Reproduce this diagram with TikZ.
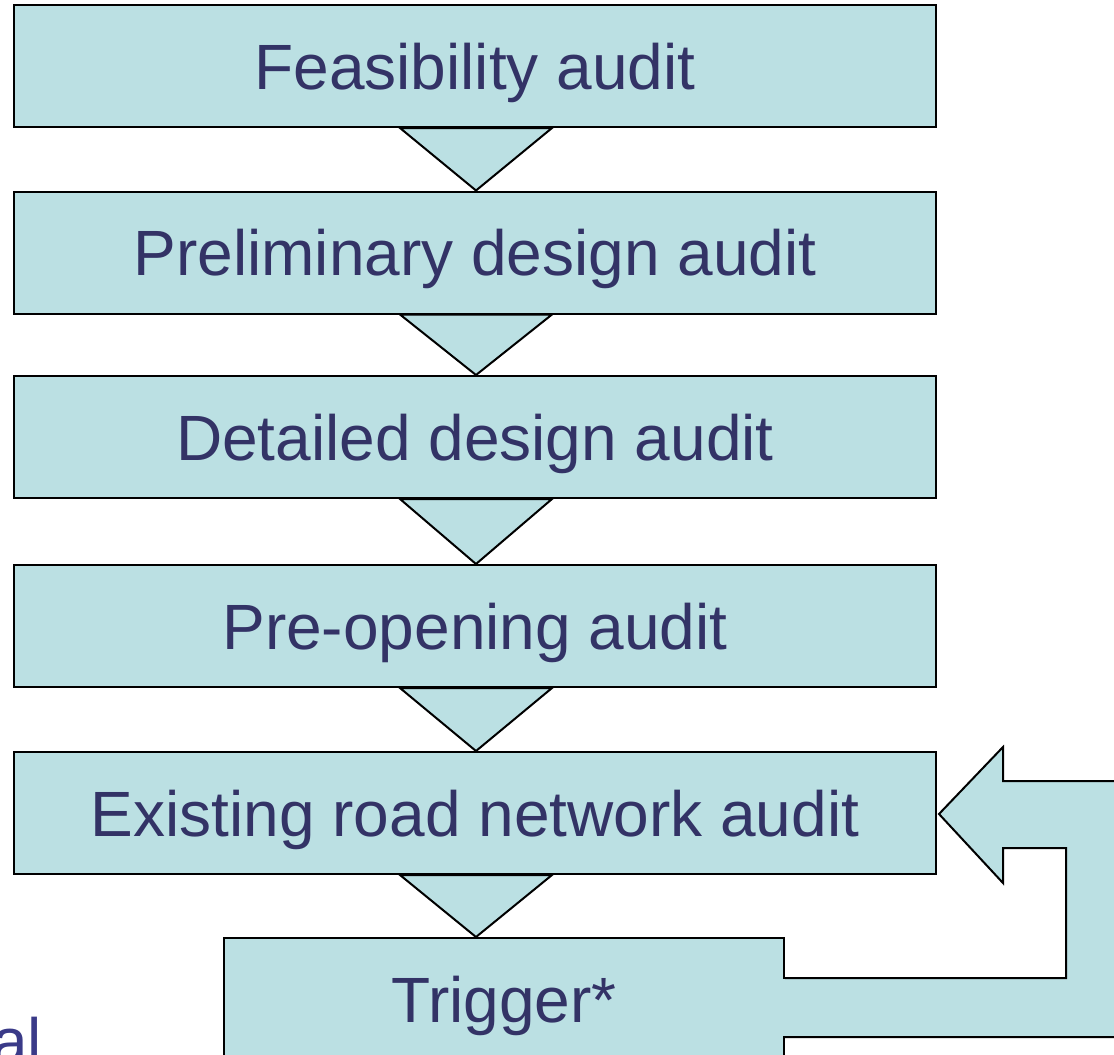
\documentclass[tikz,border=0pt]{standalone}
\usepackage{fontspec}
\setmainfont{Liberation Sans}
\usetikzlibrary{calc}
\definecolor{boxfill}{HTML}{BBE0E3}
\definecolor{txt}{HTML}{333366}
\definecolor{txtb}{HTML}{3A3A88}
\begin{document}
\begin{tikzpicture}[x=1pt,y=-1pt,
  box/.style={draw=black, line width=2pt, fill=boxfill, text=txt,
    minimum width=922pt, minimum height=122pt, inner sep=0pt,
    text height=46pt, text depth=0pt,
    font=\fontsize{64}{76}\selectfont},
  tri/.style={draw=black, line width=2pt, fill=boxfill, line join=miter},
  uarrow/.style={draw=black, line width=2pt, fill=boxfill, line join=miter}]
\useasboundingbox (0,0) rectangle (1114,1055);
\clip (0,0) rectangle (1114,1055);
\node[box] (b1) at (475,66) {Feasibility audit};
\node[box] (b2) at (475,252.5) {Preliminary design audit};
\node[box] (b3) at (475,437) {Detailed design audit};
\node[box] (b4) at (475,626) {Pre-opening audit};
\node[box] (b5) at (475,813) {Existing road network audit};
\node[box, minimum width=560pt] (tr) at (504,999) {Trigger*};
% connector triangles
\foreach \a/\b in {b1/b2,b2/b3,b3/b4,b4/b5}{
  \draw[tri] ($(\a.south)+(-75,0)$) -- ($(\a.south)+(77,0)$) -- (\b.north -| 476,0) -- cycle;
}
\draw[tri] ($(b5.south)+(-75,0)$) -- ($(b5.south)+(77,0)$) -- (tr.north -| 476,0) -- cycle;
% U-turn arrow from Trigger back to existing road network audit
\coordinate (tip) at (939,814);
\fill[boxfill] ($(tr.east |- 0,978)+(-2,1)$) rectangle (800,1036);
\filldraw[uarrow] (tr.east |- 0,978) -- (1066,978) -- (1066,848) -- (1003,848) -- (1003,883)
  -- (tip) -- (1003,747) -- (1003,781) -- (1160,781) -- (1160,1037) -- (tr.east |- 0,1037);
\node[anchor=base west, inner sep=0pt, text=txtb, font=\fontsize{64}{76}\selectfont] (al) at (-8,1063) {al};
\end{tikzpicture}
\end{document}
